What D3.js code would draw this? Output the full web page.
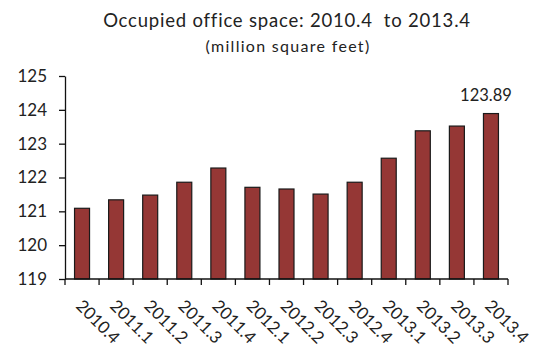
<!DOCTYPE html>
<html>
<head>
<meta charset="utf-8">
<script src="https://cdn.jsdelivr.net/npm/d3@7"></script>
<style>
  html, body { margin: 0; padding: 0; background: #fff; }
  svg { display: block; }
  text { font-family: Lato, "Open Sans", sans-serif; fill: #222; }
</style>
</head>
<body>
<svg id="chart" width="535" height="349"></svg>
<script>
// Quarterly occupied office space, million square feet
const quarters = ["2010.4", "2011.1", "2011.2", "2011.3", "2011.4", "2012.1", "2012.2",
                  "2012.3", "2012.4", "2013.1", "2013.2", "2013.3", "2013.4"];
const occupied = [121.09, 121.34, 121.48, 121.86, 122.28, 121.71, 121.66,
                  121.51, 121.86, 122.57, 123.38, 123.52, 123.89];
const yTicks = [119, 120, 121, 122, 123, 124, 125];
const labelledQuarter = "2013.4";

const svg = d3.select("#chart");
const plot = { left: 65, right: 508, top: 76, bottom: 279 };

const x = d3.scaleBand()
  .domain(quarters)
  .range([plot.left, plot.right])
  .paddingInner(0.56)
  .paddingOuter(0.28);

const y = d3.scaleLinear()
  .domain([d3.min(yTicks), d3.max(yTicks)])
  .range([plot.bottom, plot.top]);

// Titles
svg.append("text")
  .attr("x", 287).attr("y", 27)
  .attr("text-anchor", "middle")
  .style("font-size", "18.5px")
  .style("letter-spacing", "0.8px")
  .style("white-space", "pre")
  .text("Occupied office space: 2010.4  to 2013.4");

svg.append("text")
  .attr("x", 288).attr("y", 52)
  .attr("text-anchor", "middle")
  .style("font-size", "16px")
  .style("letter-spacing", "1.3px")
  .text("(million square feet)");

// Bars
svg.append("g").selectAll("rect")
  .data(quarters.map((q, i) => ({ q, v: occupied[i] })))
  .join("rect")
  .attr("x", d => x(d.q))
  .attr("y", d => y(d.v))
  .attr("width", x.bandwidth())
  .attr("height", d => y(y.domain()[0]) - y(d.v))
  .attr("fill", "#953735")
  .attr("stroke", "#1a1a1a")
  .attr("stroke-width", 1.2);

// Value label on the latest quarter
const lastIdx = quarters.indexOf(labelledQuarter);
svg.append("text")
  .attr("x", x(labelledQuarter) + x.bandwidth() / 2 - 5)
  .attr("y", y(occupied[lastIdx]) - 13)
  .attr("text-anchor", "middle")
  .style("font-size", "16.5px")
  .text(occupied[lastIdx].toFixed(2));

// Y axis
const yAxis = svg.append("g")
  .attr("transform", `translate(${plot.left},0)`)
  .call(d3.axisLeft(y).tickValues(yTicks).tickFormat(d3.format("d"))
    .tickSizeInner(6).tickSizeOuter(0).tickPadding(12));
yAxis.select(".domain").attr("stroke", "#111").attr("stroke-width", 1.3);
yAxis.selectAll(".tick line").attr("stroke", "#111").attr("stroke-width", 1.3);
yAxis.selectAll(".tick text")
  .style("font-size", "17px")
  .style("font-family", "Lato, sans-serif")
  .attr("fill", "#222");

// X axis: ticks sit between categories, labels slanted under each bar
const xAxisG = svg.append("g").attr("transform", `translate(0,${plot.bottom})`);
xAxisG.append("line")
  .attr("x1", plot.left).attr("x2", plot.right)
  .attr("stroke", "#111").attr("stroke-width", 1.3);

const boundaries = quarters.map(q => x(q) - x.step() * x.paddingInner() / 2)
  .concat([plot.right]);
xAxisG.selectAll("line.tick")
  .data(boundaries)
  .join("line")
  .attr("class", "tick")
  .attr("x1", d => d).attr("x2", d => d)
  .attr("y1", 0).attr("y2", 6)
  .attr("stroke", "#111").attr("stroke-width", 1.3);

xAxisG.selectAll("text.qlabel")
  .data(quarters)
  .join("text")
  .attr("class", "qlabel")
  .attr("transform", d => `translate(${x(d) + x.bandwidth() / 2 - 7},28) rotate(45)`)
  .style("font-size", "17px")
  .text(d => d);
</script>
</body>
</html>
